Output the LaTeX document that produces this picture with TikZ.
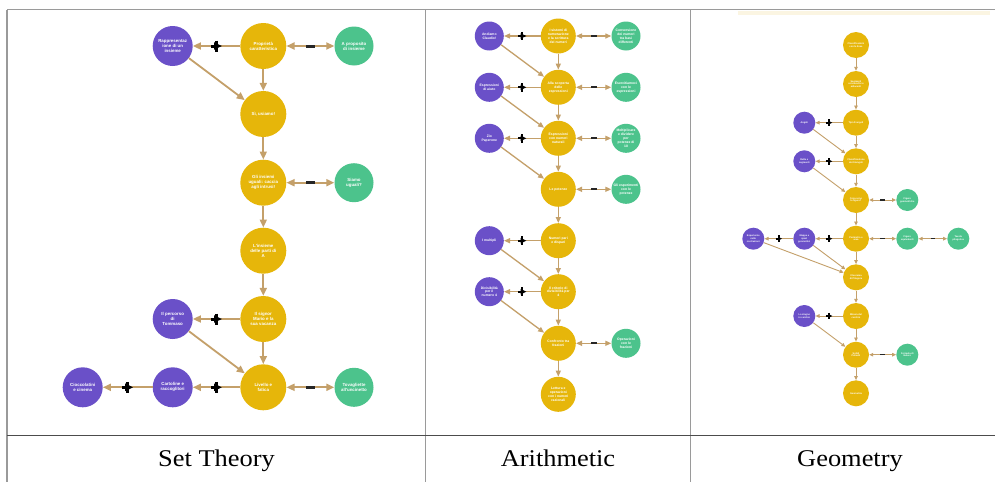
\documentclass[tikz,border=0pt]{standalone}
\usepackage{fontspec}
\setmainfont{Liberation Serif}
\newfontfamily\nodefont{Liberation Sans}
\newfontfamily\capfont[FakeStretch=1.1]{Liberation Serif}
\usetikzlibrary{arrows.meta}
\definecolor{ycol}{HTML}{E6B60A}
\definecolor{pcol}{HTML}{6A50C8}
\definecolor{gcol}{HTML}{4CC38C}
\definecolor{ecol}{HTML}{C4A06A}
\definecolor{tcol}{HTML}{9A9A9A}
\definecolor{cream}{HTML}{FBF5E2}
\newcommand\myfontA{\nodefont\bfseries\fontsize{4.4}{5.1}\selectfont}
\newcommand\myfontB{\nodefont\bfseries\fontsize{3.4}{3.9}\selectfont}
\newcommand\myfontC{\nodefont\bfseries\fontsize{2.4}{2.8}\selectfont}
\tikzset{
  bub/.style={circle,inner sep=0pt,text=white,align=center},
  % Set Theory
  stY/.style={bub,fill=ycol,minimum size=46pt,font=\myfontA},
  stP/.style={bub,fill=pcol,minimum size=40pt,font=\myfontA},
  stG/.style={bub,fill=gcol,minimum size=39pt,font=\myfontA},
  stE/.style={draw=ecol,line width=1.8pt,-{Triangle[length=8pt,width=7pt]}},
  stEE/.style={draw=ecol,line width=1.8pt,{Triangle[length=8pt,width=7pt]}-{Triangle[length=8pt,width=7pt]}},
  stPl/.style={minimum size=11pt,inner sep=0pt,path picture={\draw[black,line width=3pt]
      (path picture bounding box.north)--(path picture bounding box.south)
      (path picture bounding box.west)--(path picture bounding box.east);}},
  stMi/.style={rectangle,fill=black!85,minimum width=9pt,minimum height=3pt,inner sep=0pt},
  % Arithmetic
  arY/.style={bub,fill=ycol,minimum size=35pt,font=\myfontB},
  arP/.style={bub,fill=pcol,minimum size=29pt,font=\myfontB},
  arG/.style={bub,fill=gcol,minimum size=29pt,font=\myfontB},
  arE/.style={draw=ecol,line width=1.3pt,-{Triangle[length=6pt,width=5pt]}},
  arEE/.style={draw=ecol,line width=1.3pt,{Triangle[length=6pt,width=5pt]}-{Triangle[length=6pt,width=5pt]}},
  arPl/.style={minimum size=8.5pt,inner sep=0pt,path picture={\draw[black,line width=2.3pt]
      (path picture bounding box.north)--(path picture bounding box.south)
      (path picture bounding box.west)--(path picture bounding box.east);}},
  arMi/.style={rectangle,fill=black!85,minimum width=6pt,minimum height=2pt,inner sep=0pt},
  % Geometry
  geY/.style={bub,fill=ycol,minimum size=26pt,font=\myfontC},
  geP/.style={bub,fill=pcol,minimum size=22pt,font=\myfontC},
  geG/.style={bub,fill=gcol,minimum size=22pt,font=\myfontC},
  geE/.style={draw=ecol,line width=0.9pt,-{Triangle[length=4pt,width=3.5pt]}},
  geEE/.style={draw=ecol,line width=0.9pt,{Triangle[length=4pt,width=3.5pt]}-{Triangle[length=4pt,width=3.5pt]}},
  gePl/.style={minimum size=6.5pt,inner sep=0pt,path picture={\draw[black,line width=1.7pt]
      (path picture bounding box.north)--(path picture bounding box.south)
      (path picture bounding box.west)--(path picture bounding box.east);}},
  geMi/.style={rectangle,fill=black!85,minimum width=4.5pt,minimum height=1.5pt,inner sep=0pt},
  % table
  tline/.style={draw=tcol,line width=1.5pt},
  caption/.style={font=\capfont\fontsize{24}{28}\selectfont,anchor=base,inner sep=0pt}
}
\begin{document}
\begin{tikzpicture}[x=1pt,y=-1pt]
\useasboundingbox (0,0) rectangle (995,482);
\fill[white] (0,0) rectangle (995,482);
\fill[cream] (738,10.5) rectangle (990,15);
% table lines
\draw[tline] (7,9.5) -- (995,9.5);
\draw[tline] (7,9.5) -- (7,482);
\draw[tline] (425.5,9.5) -- (425.5,482);
\draw[tline] (690.5,9.5) -- (690.5,482);
\draw[draw=black!70,line width=1pt] (7,435) -- (995,435);
% captions
\node[caption] (c1) at (216.5,466) {Set Theory};
\node[caption] (c2) at (558,466) {Arithmetic};
\node[caption] (c3) at (850,466) {Geometry};

% ===== Set Theory =====
\node[stP] (s1p) at (172.7,46) {Rappresentaz\\ione di un\\insieme};
\node[stY] (s1y) at (263.3,46) {Proprietà\\caratteristica};
\node[stG] (s1g) at (354,46) {A proposito\\di insieme};
\node[stY] (s2y) at (263.3,114) {Sì, usiamo!};
\node[stY] (s3y) at (263.3,182.7) {Gli insiemi\\uguali: caccia\\agli intrusi!};
\node[stG] (s3g) at (354,182.7) {Siamo\\uguali?};
\node[stY] (s4y) at (263.3,250.7) {L'insieme\\delle parti di\\A};
\node[stY] (s5y) at (263.3,319) {Il signor\\Mario e la\\sua vacanza};
\node[stP] (s5p) at (172.7,319) {Il percorso\\di\\Tommaso};
\node[stY] (s6y) at (263.3,387.3) {Livello e\\fatica};
\node[stP] (s6p) at (172.7,387.3) {Cartoline e\\raccoglitori};
\node[stP] (s6q) at (82.7,387.3) {Cioccolatini\\e cinema};
\node[stG] (s6g) at (354,387.3) {Tovagliette\\all'uncinetto};

\draw[stE] (s1y) -- node[stPl]{} (s1p);
\draw[stEE] (s1y) -- node[stMi]{} (s1g);
\draw[stE] (s1p) -- (s2y);
\draw[stE] (s1y) -- (s2y);
\draw[stE] (s2y) -- (s3y);
\draw[stEE] (s3y) -- node[stMi]{} (s3g);
\draw[stE] (s3y) -- (s4y);
\draw[stE] (s4y) -- (s5y);
\draw[stE] (s5y) -- node[stPl]{} (s5p);
\draw[stE] (s5p) -- (s6y);
\draw[stE] (s5y) -- (s6y);
\draw[stE] (s6y) -- node[stPl]{} (s6p);
\draw[stE] (s6p) -- node[stPl]{} (s6q);
\draw[stEE] (s6y) -- node[stMi]{} (s6g);

% ===== Arithmetic =====
\node[arP] (a1p) at (489.3,36) {Andiamo\\Claudio!};
\node[arY] (a1y) at (558.3,36) {I sistemi di\\numerazione\\e la scrittura\\dei numeri};
\node[arG] (a1g) at (626,36) {Conversione\\dei numeri\\tra basi\\differenti};
\node[arP] (a2p) at (489.3,87.3) {Espressioni\\di aiuto};
\node[arY] (a2y) at (558.3,87.3) {Alla scoperta\\delle\\espressioni};
\node[arG] (a2g) at (626,87.3) {Esercitiamoci\\con le\\espressioni};
\node[arP] (a3p) at (489.3,138.3) {Zio\\Paperone};
\node[arY] (a3y) at (558.3,138.3) {Espressioni\\con numeri\\naturali};
\node[arG] (a3g) at (626,138.3) {Moltiplicare\\e dividere\\per\\potenze di\\10};
\node[arY] (a4y) at (558.3,189.3) {Le potenze};
\node[arG] (a4g) at (626,189.3) {Gli esperimenti\\con le\\potenze};
\node[arP] (a5p) at (489.3,240.7) {I multipli};
\node[arY] (a5y) at (558.3,240.7) {Numeri pari\\e dispari};
\node[arP] (a6p) at (489.3,291.7) {Divisibilità\\per il\\numero 4};
\node[arY] (a6y) at (558.3,291.7) {Il criterio di\\divisibilità per\\4};
\node[arY] (a7y) at (558.3,343.3) {Confronto tra\\frazioni};
\node[arG] (a7g) at (626,343.3) {Operazioni\\con le\\frazioni};
\node[arY] (a8y) at (558.3,394.3) {Lettura e\\operazioni\\con i numeri\\razionali};

\draw[arE] (a1y) -- node[arPl]{} (a1p);
\draw[arEE] (a1y) -- node[arMi]{} (a1g);
\draw[arE] (a1p) -- (a2y);
\draw[arE] (a1y) -- (a2y);
\draw[arE] (a2y) -- node[arPl]{} (a2p);
\draw[arEE] (a2y) -- node[arMi]{} (a2g);
\draw[arE] (a2p) -- (a3y);
\draw[arE] (a2y) -- (a3y);
\draw[arE] (a3y) -- node[arPl]{} (a3p);
\draw[arEE] (a3y) -- node[arMi]{} (a3g);
\draw[arE] (a3p) -- (a4y);
\draw[arE] (a3y) -- (a4y);
\draw[arEE] (a4y) -- node[arMi]{} (a4g);
\draw[arE] (a4y) -- (a5y);
\draw[arE] (a5y) -- node[arPl]{} (a5p);
\draw[arE] (a5p) -- (a6y);
\draw[arE] (a5y) -- (a6y);
\draw[arE] (a6y) -- node[arPl]{} (a6p);
\draw[arE] (a6p) -- (a7y);
\draw[arE] (a6y) -- (a7y);
\draw[arEE] (a7y) -- node[arMi]{} (a7g);
\draw[arE] (a7y) -- (a8y);

% ===== Geometry =====
\node[geY] (g1y) at (856,45) {Classificazioni\\con le linee};
\node[geY] (g2y) at (856,84) {Segmenti\\consecutivi e\\adiacenti};
\node[geY] (g3y) at (856,122.7) {Tipi di angoli};
\node[geP] (g3p) at (804.3,122.7) {Angoli};
\node[geY] (g4y) at (856,161.3) {Classificazione\\dei triangoli};
\node[geP] (g4p) at (804.3,161.3) {Rette e\\segmenti};
\node[geY] (g5y) at (856,200) {Cosa sono\\le figure?};
\node[geG] (g5g) at (907.3,200) {Figure\\geometriche};
\node[geY] (g6y) at (856,238.7) {Perimetro e\\area};
\node[geP] (g6p) at (804.3,238.7) {Mappe e\\spazi\\geometrici};
\node[geP] (g6f) at (753.3,238.7) {Esperienze\\nelle\\costruzioni};
\node[geG] (g6g) at (907.3,238.7) {Figure\\equivalenti};
\node[geG] (g6h) at (958.3,238.7) {Tavola\\pitagorica};
\node[geY] (g7y) at (856,277.3) {Il teorema\\di Pitagora};
\node[geY] (g8y) at (856,316) {Misura del\\cerchio};
\node[geP] (g8p) at (804.3,316) {Lo stagno\\in cerchio};
\node[geY] (g9y) at (856,354.7) {Solidi\\Poliedri};
\node[geG] (g9g) at (907.3,354.7) {Formula di\\Eulero};
\node[geY] (g10y) at (856,393.3) {Geometria};

\draw[geE] (g1y) -- (g2y);
\draw[geE] (g2y) -- (g3y);
\draw[geE] (g3y) -- node[gePl]{} (g3p);
\draw[geE] (g3p) -- (g4y);
\draw[geE] (g3y) -- (g4y);
\draw[geE] (g4y) -- node[gePl]{} (g4p);
\draw[geE] (g4p) -- (g5y);
\draw[geE] (g4y) -- (g5y);
\draw[geEE] (g5y) -- node[geMi]{} (g5g);
\draw[geE] (g5y) -- (g6y);
\draw[geE] (g6y) -- node[gePl]{} (g6p);
\draw[geE] (g6p) -- node[gePl]{} (g6f);
\draw[geEE] (g6y) -- node[geMi]{} (g6g);
\draw[geEE] (g6g) -- node[geMi]{} (g6h);
\draw[geE] (g6p) -- (g7y);
\draw[geE] (g6f) -- (g7y);
\draw[geE] (g6y) -- (g7y);
\draw[geE] (g7y) -- (g8y);
\draw[geE] (g8y) -- node[gePl]{} (g8p);
\draw[geE] (g8p) -- (g9y);
\draw[geE] (g8y) -- (g9y);
\draw[geEE] (g9y) -- node[geMi]{} (g9g);
\draw[geE] (g9y) -- (g10y);
\end{tikzpicture}
\end{document}
